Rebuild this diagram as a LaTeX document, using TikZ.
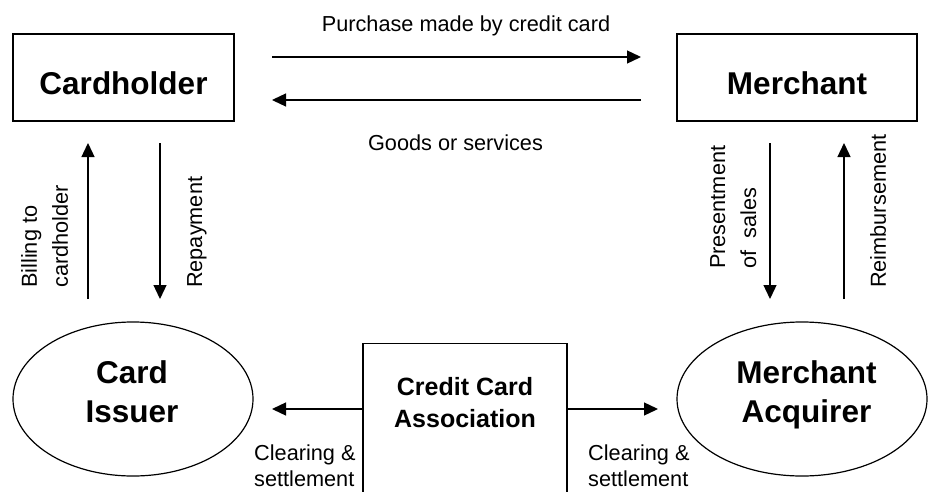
\documentclass[tikz,border=0pt]{standalone}
\usepackage{fontspec}
\setmainfont{Liberation Sans}
\usetikzlibrary{arrows.meta,shapes.geometric}
\begin{document}
\begin{tikzpicture}[x=1pt,y=-1pt,
  box/.style={draw, line width=1.3pt, inner sep=0pt},
  bigtitle/.style={font=\fontsize{31.5}{39}\selectfont\bfseries, inner sep=0pt, align=center},
  lbl/.style={font=\fontsize{21.7}{26}\selectfont, inner sep=0pt},
  rlbl/.style={font=\fontsize{21.7}{31}\selectfont, inner sep=0pt, rotate=90, anchor=north west, align=left},
  clbl/.style={font=\fontsize{21.7}{25.5}\selectfont, inner sep=0pt, anchor=north west, align=left},
  arr/.style={line width=1.3pt, -{Triangle[length=14pt,width=13pt]}},
  oval/.style={draw, ellipse, line width=1.2pt, inner sep=0pt}]
\clip (0,0) rectangle (928,492);
\fill[white] (0,0) rectangle (928,492);

% boxes
\node[box, minimum width=221, minimum height=87, font=\fontsize{31.5}{38}\selectfont\bfseries, text height=34pt, text depth=0pt] (ch) at (123.5,77.5) {Cardholder};
\node[box, minimum width=240, minimum height=87, font=\fontsize{31.5}{38}\selectfont\bfseries, text height=34pt, text depth=0pt] (me) at (797,77.5) {Merchant};

% ellipses
\node[oval, minimum width=240, minimum height=154] (ci) at (133,399) {};
\node[bigtitle, anchor=north] (cit) at (132,360) {Card\\Issuer};
\node[oval, minimum width=250, minimum height=154] (ma) at (802,399) {};
\node[bigtitle, anchor=north] (mat) at (806.5,360) {Merchant\\Acquirer};

% association
\node[box, minimum width=204, minimum height=190, anchor=north] (cca) at (465,343) {};
\node[font=\fontsize{25}{32}\selectfont\bfseries, inner sep=0pt, align=center, anchor=north] (ccat) at (465,377) {Credit Card\\Association};

% arrow end points
\coordinate (p1) at (272,57);  \coordinate (p2) at (641,57);
\coordinate (g1) at (641,100); \coordinate (g2) at (272,100);
\coordinate (b1) at (88,299);  \coordinate (b2) at (88,143);
\coordinate (r1) at (160,143); \coordinate (r2) at (160,299);
\coordinate (s1) at (770,143); \coordinate (s2) at (770,299);
\coordinate (m1) at (844,299); \coordinate (m2) at (844,143);
\coordinate (c1) at (363,409); \coordinate (c2) at (272,409);
\coordinate (d1) at (567,409); \coordinate (d2) at (658,409);

\draw[arr] (p1) -- (p2);
\draw[arr] (g1) -- (g2);
\draw[arr] (b1) -- (b2);
\draw[arr] (r1) -- (r2);
\draw[arr] (s1) -- (s2);
\draw[arr] (m1) -- (m2);
\draw[arr] (c1) -- (c2);
\draw[arr] (d1) -- (d2);

% labels
\node[lbl, anchor=base] (lp) at (466,32) {Purchase made by credit card};
\node[lbl, anchor=base] (lg) at (455.5,150) {Goods or services};
\node[rlbl] (lb) at (21,288) {Billing to\\cardholder};
\node[rlbl] (lr) at (187,288) {Repayment};
\node[rlbl] (ls) at (710,269) {Presentment\\of\ \ sales};
\node[rlbl] (lm) at (870,288) {Reimbursement};
\node[clbl] (lc1) at (254,445) {Clearing \&\\settlement};
\node[clbl] (lc2) at (588,445) {Clearing \&\\settlement};
\end{tikzpicture}
\end{document}
